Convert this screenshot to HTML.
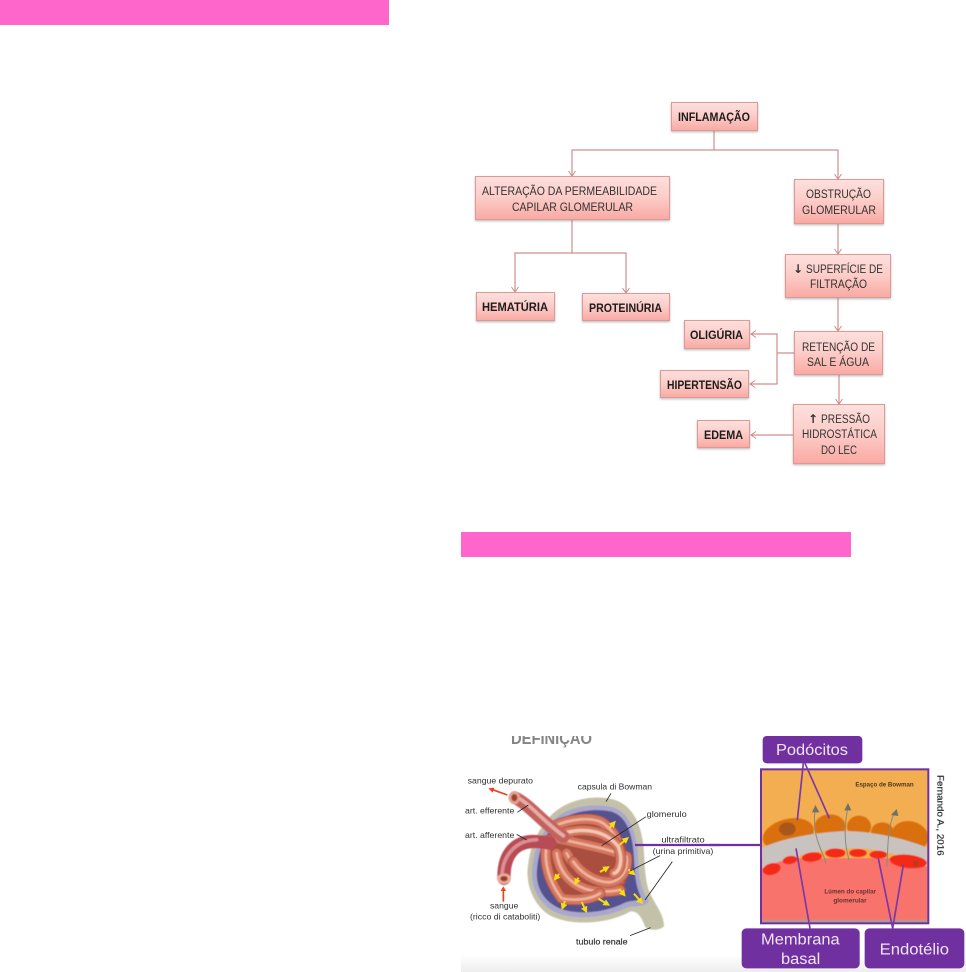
<!DOCTYPE html>
<html lang="pt">
<head>
<meta charset="utf-8">
<style>
html,body{margin:0;padding:0;background:#fff;width:966px;height:972px;overflow:hidden}
svg{display:block}
text{font-family:"Liberation Sans",sans-serif}
</style>
</head>
<body>
<svg width="966" height="972" viewBox="0 0 966 972" xmlns="http://www.w3.org/2000/svg">
<defs>
<linearGradient id="bx" x1="0" y1="0" x2="0" y2="1">
<stop offset="0" stop-color="#fde0dd"/><stop offset=".5" stop-color="#fccbc7"/><stop offset="1" stop-color="#f9a9a3"/>
</linearGradient>
<linearGradient id="strip" x1="0" y1="0" x2="0" y2="1">
<stop offset="0" stop-color="#fff"/><stop offset="1" stop-color="#ededed"/>
</linearGradient>
<filter id="s" x="-10%" y="-10%" width="120%" height="130%">
<feDropShadow dx="0" dy="1.2" stdDeviation="1" flood-color="#777" flood-opacity=".5"/>
</filter>
<filter id="b1" x="-5%" y="-5%" width="110%" height="110%"><feGaussianBlur stdDeviation=".35"/></filter>
<filter id="b2" x="-5%" y="-5%" width="110%" height="110%"><feGaussianBlur stdDeviation="1.5"/></filter>
<clipPath id="defclip"><rect x="500" y="736" width="110" height="18"/></clipPath>
<marker id="ar" markerWidth="8" markerHeight="8" refX="6" refY="4" orient="auto" markerUnits="userSpaceOnUse">
<path d="M1 .5L6 4L1 7.5" fill="none" stroke="#cf8a88" stroke-width="1"/>
</marker>
<marker id="yel" viewBox="0 0 10 10" refX="3" refY="5" markerWidth="3.4" markerHeight="3.4" orient="auto">
<path d="M0 0L10 5L0 10Z" fill="#f7dc10"/>
</marker>
<path id="tA" d="M280 305C330 280 400 275 430 295C455 315 465 330 470 345"/>
<path id="tB" d="M310 325C380 305 440 320 475 365C490 405 480 440 462 445"/>
<path id="tC" d="M290 340C380 360 460 375 500 395C505 440 480 470 445 472C400 470 360 440 340 410"/>
<path id="tD" d="M265 345C250 385 255 455 305 520C350 530 400 520 420 505"/>
<path id="tE" d="M290 385C300 455 350 495 420 500C450 500 470 497 480 495"/>
<path id="tF" d="M320 385C350 445 420 480 480 465"/>
</defs>

<rect x="0" y="0" width="389" height="25" fill="#ff66cc"/>
<rect x="461" y="532" width="390" height="25" fill="#ff66cc"/>
<rect x="461" y="955" width="505" height="17" fill="url(#strip)"/>

<!-- connectors -->
<g fill="none" stroke="#cf8f8d" stroke-width="1.2">
<path d="M714 131V150"/>
<path d="M714 150H572V176" marker-end="url(#ar)"/>
<path d="M714 150H838V179" marker-end="url(#ar)"/>
<path d="M572 220V253"/>
<path d="M572 253H515V292" marker-end="url(#ar)"/>
<path d="M572 253H626V293" marker-end="url(#ar)"/>
<path d="M838 224V254" marker-end="url(#ar)"/>
<path d="M838 298V331" marker-end="url(#ar)"/>
<path d="M839 375V404" marker-end="url(#ar)"/>
<path d="M794 353H777"/>
<path d="M777 353V334H751" marker-end="url(#ar)"/>
<path d="M777 353V384H750" marker-end="url(#ar)"/>
<path d="M793 435H751" marker-end="url(#ar)"/>
</g>

<!-- boxes -->
<g fill="url(#bx)" stroke="#dc9a97" stroke-width="1" filter="url(#s)">
<rect x="671.5" y="102.5" width="86" height="28"/>
<rect x="475.5" y="176.5" width="194" height="43"/>
<rect x="476.5" y="292.5" width="78" height="28"/>
<rect x="582.5" y="293.5" width="87" height="27"/>
<rect x="794.5" y="179.5" width="89" height="44"/>
<rect x="785.5" y="254.5" width="105" height="43"/>
<rect x="684.5" y="320.5" width="65" height="28"/>
<rect x="660.5" y="370.5" width="88" height="27"/>
<rect x="794.5" y="331.5" width="88" height="43"/>
<rect x="793.5" y="404.5" width="91" height="59"/>
<rect x="697.5" y="420.5" width="52" height="27"/>
</g>

<!-- box text -->
<g filter="url(#b1)" font-size="11.5" fill="#333">
<g font-weight="bold" fill="#1e1e1e">
<text x="678" y="121" textLength="72" lengthAdjust="spacingAndGlyphs">INFLAMAÇÃO</text>
<text x="482" y="311" textLength="66" lengthAdjust="spacingAndGlyphs">HEMATÚRIA</text>
<text x="589" y="312" textLength="73" lengthAdjust="spacingAndGlyphs">PROTEINÚRIA</text>
<text x="690" y="339" textLength="53" lengthAdjust="spacingAndGlyphs">OLIGÚRIA</text>
<text x="667" y="389" textLength="75" lengthAdjust="spacingAndGlyphs">HIPERTENSÃO</text>
<text x="704" y="439" textLength="39" lengthAdjust="spacingAndGlyphs">EDEMA</text>
</g>
<text x="482" y="195" textLength="175" lengthAdjust="spacingAndGlyphs">ALTERAÇÃO DA PERMEABILIDADE</text>
<text x="512" y="211" textLength="121" lengthAdjust="spacingAndGlyphs">CAPILAR GLOMERULAR</text>
<text x="806" y="198" textLength="65" lengthAdjust="spacingAndGlyphs">OBSTRUÇÃO</text>
<text x="802" y="214" textLength="74" lengthAdjust="spacingAndGlyphs">GLOMERULAR</text>
<text x="793" y="273" font-weight="bold" font-size="12" style="font-family:'DejaVu Sans',sans-serif">↓</text>
<text x="806" y="273" textLength="77" lengthAdjust="spacingAndGlyphs">SUPERFÍCIE DE</text>
<text x="810" y="288" textLength="57" lengthAdjust="spacingAndGlyphs">FILTRAÇÃO</text>
<text x="802" y="351" textLength="73" lengthAdjust="spacingAndGlyphs">RETENÇÃO DE</text>
<text x="807" y="366" textLength="62" lengthAdjust="spacingAndGlyphs">SAL E ÁGUA</text>
<text x="808" y="423" font-weight="bold" font-size="12" style="font-family:'DejaVu Sans',sans-serif">↑</text>
<text x="821" y="423" textLength="49" lengthAdjust="spacingAndGlyphs">PRESSÃO</text>
<text x="802" y="438" textLength="75" lengthAdjust="spacingAndGlyphs">HIDROSTÁTICA</text>
<text x="821" y="454" textLength="36" lengthAdjust="spacingAndGlyphs">DO LEC</text>
</g>

<!-- DEFINIÇÃO clipped heading -->
<g clip-path="url(#defclip)">
<text x="511" y="744" font-size="17" font-weight="bold" fill="#858585" textLength="81" lengthAdjust="spacingAndGlyphs" filter="url(#b1)">DEFINIÇÃO</text>
</g>

<!-- left illustration (zoom coordinates) -->
<g transform="translate(460 725) scale(.33333)">
<g filter="url(#b2)">
<path d="M265 280C310 225 400 205 465 225C525 245 550 310 553 400C555 450 560 490 575 515C590 545 612 570 612 605C590 620 565 615 555 605C545 575 530 555 510 560C440 600 320 605 260 565C215 530 195 470 205 415C212 360 235 315 265 280Z" fill="#c4c1a9"/>
<path d="M280 285C320 245 400 232 460 247C510 265 530 320 534 400C536 460 545 500 568 530C550 550 520 540 500 548C430 583 320 588 270 552C225 520 210 470 218 420C225 360 250 315 280 285Z" fill="#a9a7cc"/>
<path d="M290 295C325 260 400 248 455 260C500 275 518 325 522 400C524 460 530 490 545 522C525 530 510 525 490 535C425 568 325 572 280 540C240 515 225 470 232 425C238 365 260 320 290 295Z" fill="#55528f"/>
<path d="M280 320C340 285 430 280 470 320C510 370 515 430 490 490C440 530 340 535 300 510C255 450 250 370 280 320Z" fill="#a9503f"/>
<g fill="none" stroke-linecap="round" stroke-linejoin="round">
<g><use href="#tA" stroke="#a8493a" stroke-width="33"/><use href="#tA" stroke="#d5775f" stroke-width="28"/><use href="#tA" stroke="#efb49c" stroke-width="8"/></g>
<g><use href="#tF" stroke="#a8493a" stroke-width="33"/><use href="#tF" stroke="#d5775f" stroke-width="28"/><use href="#tF" stroke="#efb49c" stroke-width="8"/></g>
<g><use href="#tE" stroke="#a8493a" stroke-width="33"/><use href="#tE" stroke="#d5775f" stroke-width="28"/><use href="#tE" stroke="#efb49c" stroke-width="8"/></g>
<g><use href="#tD" stroke="#a8493a" stroke-width="33"/><use href="#tD" stroke="#d5775f" stroke-width="28"/><use href="#tD" stroke="#efb49c" stroke-width="8"/></g>
<g><use href="#tC" stroke="#a8493a" stroke-width="33"/><use href="#tC" stroke="#d5775f" stroke-width="28"/><use href="#tC" stroke="#efb49c" stroke-width="8"/></g>
<g><use href="#tB" stroke="#a8493a" stroke-width="33"/><use href="#tB" stroke="#d5775f" stroke-width="28"/><use href="#tB" stroke="#f3c8b4" stroke-width="10"/></g>
<path d="M165 218C210 240 245 290 310 335" stroke="#c4625e" stroke-width="38"/>
<path d="M165 213C210 235 245 285 310 332" stroke="#e7aca6" stroke-width="11"/>
<path d="M132 460C130 390 165 345 230 350C245 351 258 352 270 355" stroke="#b84c55" stroke-width="40"/>
<path d="M126 455C126 395 165 345 230 344" stroke="#dc8f8f" stroke-width="11"/>
</g>
<ellipse cx="163" cy="218" rx="17" ry="20" fill="#e0a492"/><ellipse cx="163" cy="218" rx="9" ry="11" fill="#a5402f"/>
<ellipse cx="132" cy="461" rx="21" ry="16" fill="#e8ac9a"/><ellipse cx="132" cy="461" rx="11" ry="8" fill="#9c3b2b"/>
</g>
<g stroke="#f7dc10" stroke-width="6" fill="none">
<path d="M449 308L458 298" marker-end="url(#yel)"/>
<path d="M478 360L496 345" marker-end="url(#yel)"/>
<path d="M420 441L437 431" marker-end="url(#yel)"/>
<path d="M297 447L290 456" marker-end="url(#yel)"/>
<path d="M355 458L350 468" marker-end="url(#yel)"/>
<path d="M505 433L516 442" marker-end="url(#yel)"/>
<path d="M478 492L488 504" marker-end="url(#yel)"/>
<path d="M315 528L310 542" marker-end="url(#yel)"/>
<path d="M365 531L375 552" marker-end="url(#yel)"/>
<path d="M415 521L438 535" marker-end="url(#yel)"/>
<path d="M522 506L540 527" marker-end="url(#yel)"/>
</g>
<g stroke="#e8421e" stroke-width="5" fill="#e8421e">
<path d="M142 210L95 193" fill="none"/><path d="M85 190L103 188L98 203Z" stroke="none"/>
<path d="M130 530V495" fill="none"/><path d="M130 484L138 498H122Z" stroke="none"/>
</g>
<g stroke="#222" stroke-width="2.5" fill="none">
<path d="M453 205L438 230M558 275L425 362M600 392L510 438M637 410L555 525M572 608L510 632M172 262L205 240M170 328L200 345"/>
</g>
<path d="M525 360H780" stroke="#7030a0" stroke-width="7"/>
<g font-size="26" fill="#303030" style="filter:blur(.3px)">
<text x="23" y="176" textLength="196" lengthAdjust="spacingAndGlyphs">sangue depurato</text>
<text x="15" y="266" textLength="148" lengthAdjust="spacingAndGlyphs">art. efferente</text>
<text x="15" y="339" textLength="148" lengthAdjust="spacingAndGlyphs">art. afferente</text>
<text x="90" y="551" textLength="85" lengthAdjust="spacingAndGlyphs">sangue</text>
<text x="30" y="584" textLength="211" lengthAdjust="spacingAndGlyphs">(ricco di cataboliti)</text>
<text x="353" y="194" textLength="223" lengthAdjust="spacingAndGlyphs">capsula di Bowman</text>
<text x="560" y="276" textLength="120" lengthAdjust="spacingAndGlyphs">glomerulo</text>
<text x="604" y="353" textLength="130" lengthAdjust="spacingAndGlyphs">ultrafiltrato</text>
<text x="578" y="387" textLength="182" lengthAdjust="spacingAndGlyphs">(urina primitiva)</text>
<text x="348" y="658" textLength="155" lengthAdjust="spacingAndGlyphs" stroke="#303030" stroke-width=".5">tubulo renale</text>
</g>
</g>

<!-- right illustration (zoom coordinates) -->
<g transform="translate(710 725) scale(.33333)">
<rect x="153" y="133" width="502" height="462" fill="#f2ae50"/>
<rect x="156" y="400" width="496" height="192" fill="#f8736c"/>
<rect x="156" y="584" width="496" height="9" fill="#b09a90"/>
<g filter="url(#b2)">
<ellipse cx="235" cy="328" rx="78" ry="46" fill="#d9700f" transform="rotate(-14 235 328)"/>
<ellipse cx="360" cy="305" rx="47" ry="37" fill="#d9700f"/>
<ellipse cx="447" cy="305" rx="36" ry="33" fill="#d9700f"/>
<ellipse cx="517" cy="322" rx="34" ry="30" fill="#d9700f"/>
<ellipse cx="600" cy="333" rx="56" ry="44" fill="#d9700f" transform="rotate(14 600 333)"/>
<ellipse cx="232" cy="312" rx="25" ry="20" fill="#a8561c"/>
<path d="M156 368C220 340 310 322 410 318C480 320 570 335 652 368V425C570 390 500 368 420 370C330 372 240 395 156 430Z" fill="#c9c3c0"/>
<ellipse cx="185" cy="432" rx="27" ry="17" fill="#f52a18" transform="rotate(-15 185 432)"/>
<ellipse cx="240" cy="405" rx="22" ry="12" fill="#f52a18" transform="rotate(-10 240 405)"/>
<ellipse cx="306" cy="396" rx="30" ry="14" fill="#f52a18" transform="rotate(-6 306 396)"/>
<ellipse cx="376" cy="384" rx="30" ry="14" fill="#f52a18"/>
<ellipse cx="444" cy="384" rx="26" ry="12" fill="#f52a18"/>
<ellipse cx="505" cy="389" rx="26" ry="12" fill="#f52a18"/>
<ellipse cx="595" cy="409" rx="56" ry="20" fill="#f52a18" transform="rotate(6 595 409)"/>
<ellipse cx="618" cy="415" rx="10" ry="9" fill="#b83a20"/>
</g>
<g fill="none" stroke="#8a8a80" stroke-width="3">
<path d="M348 415C340 380 305 340 315 255"/>
<path d="M417 405C405 360 400 320 413 250"/>
<path d="M530 425C535 370 530 320 552 265"/>
</g>
<g fill="#6f7068">
<path d="M316 240L306 262L328 262Z"/>
<path d="M414 234L403 256L424 256Z"/>
<path d="M560 252L543 270L565 273Z"/>
</g>
<rect x="153" y="133" width="502" height="462" fill="none" stroke="#7030a0" stroke-width="6"/>
<path d="M0 360H153" stroke="#7030a0" stroke-width="7"/>
<g stroke="#7a38a8" stroke-width="5" fill="none">
<path d="M280 115L262 285M285 115L358 280M258 370L300 610M505 400L548 610M580 420L548 610"/>
</g>
<g fill="#7030a0">
<rect x="158" y="33" width="299" height="82" rx="12"/>
<rect x="95" y="610" width="354" height="120" rx="14"/>
<rect x="464" y="610" width="299" height="120" rx="14"/>
</g>
<g fill="#efe6f4" font-size="46" style="filter:blur(.3px)">
<text x="198" y="90" textLength="216" lengthAdjust="spacingAndGlyphs">Podócitos</text>
<text x="153" y="659" textLength="236" lengthAdjust="spacingAndGlyphs">Membrana</text>
<text x="213" y="717" textLength="118" lengthAdjust="spacingAndGlyphs">basal</text>
<text x="509" y="688" textLength="208" lengthAdjust="spacingAndGlyphs">Endotélio</text>
</g>
<g font-size="20" font-weight="bold" style="filter:blur(.4px)">
<text x="436" y="184" textLength="175" lengthAdjust="spacingAndGlyphs" fill="#4a3a22">Espaço de Bowman</text>
<text x="343" y="506" textLength="155" lengthAdjust="spacingAndGlyphs" fill="#6a3030">Lúmen do capilar</text>
<text x="370" y="533" textLength="100" lengthAdjust="spacingAndGlyphs" fill="#6a3030">glomerular</text>
</g>
<text transform="translate(682 150) rotate(90)" font-size="27" fill="#2a2a2a" stroke="#2a2a2a" stroke-width=".6" textLength="242" lengthAdjust="spacingAndGlyphs" style="filter:blur(.3px)">Fernando A., 2016</text>
</g>
</svg>
</body>
</html>
